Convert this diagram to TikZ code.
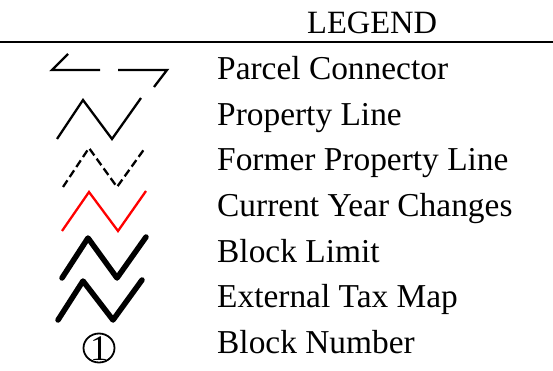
\documentclass[tikz,border=0pt]{standalone}
\usepackage{fontspec}
\setmainfont{Liberation Serif}
\begin{document}
\begin{tikzpicture}[x=1pt,y=-1pt,
  lbl/.style={anchor=base west,inner sep=0pt,font=\fontsize{33.4}{40}\selectfont},
  thin line/.style={line width=2.3pt,line cap=butt,line join=miter},
  thick line/.style={line width=5.5pt,line cap=round,line join=round},
  former/.style={line width=2.3pt,dash pattern=on 8pt off 4pt},
  changes/.style={line width=2.3pt,red}]
\useasboundingbox (0,0) rectangle (553,371);
\node[lbl,font=\fontsize{32.5}{38}\selectfont] (title) at (307,34) {LEGEND};
\draw[line width=2.3pt] (0,42) -- (553,42);
% parcel connector
\draw[thin line] (68,54) -- (52,70) -- (100,70);
\draw[thin line] (118,70) -- (167,70) -- (154,87);
\node[lbl] (l1) at (217,80) {Parcel Connector};
% property line
\draw[thin line] (57,139) -- (83,100) -- (112,139) -- (141,98);
\node[lbl] (l2) at (217,125.5) {Property Line};
% former property line
\draw[former] (63,187) -- (89,148) -- (117,187) -- (145,148);
\node[lbl] (l3) at (217,171) {Former Property Line};
% current year changes
\draw[changes] (62,231) -- (89,192) -- (118,231) -- (146,191);
\node[lbl] (l4) at (217,216.5) {Current Year Changes};
% block limit
\draw[thick line] (62,278) -- (88,238) -- (117,278) -- (146,237);
\node[lbl] (l5) at (217,262) {Block Limit};
% external tax map
\draw[thick line] (58,320) -- (83,281) -- (113,320) -- (142,280);
\node[lbl] (l6) at (217,307.5) {External Tax Map};
% block number
\draw[line width=1.8pt] (99,348) ellipse [x radius=15.5pt, y radius=14.5pt];
\node[inner sep=0pt,anchor=base,font=\fontsize{36}{40}\selectfont] (one) at (99,360) {1};
\node[lbl] (l7) at (217,353) {Block Number};
\end{tikzpicture}
\end{document}
